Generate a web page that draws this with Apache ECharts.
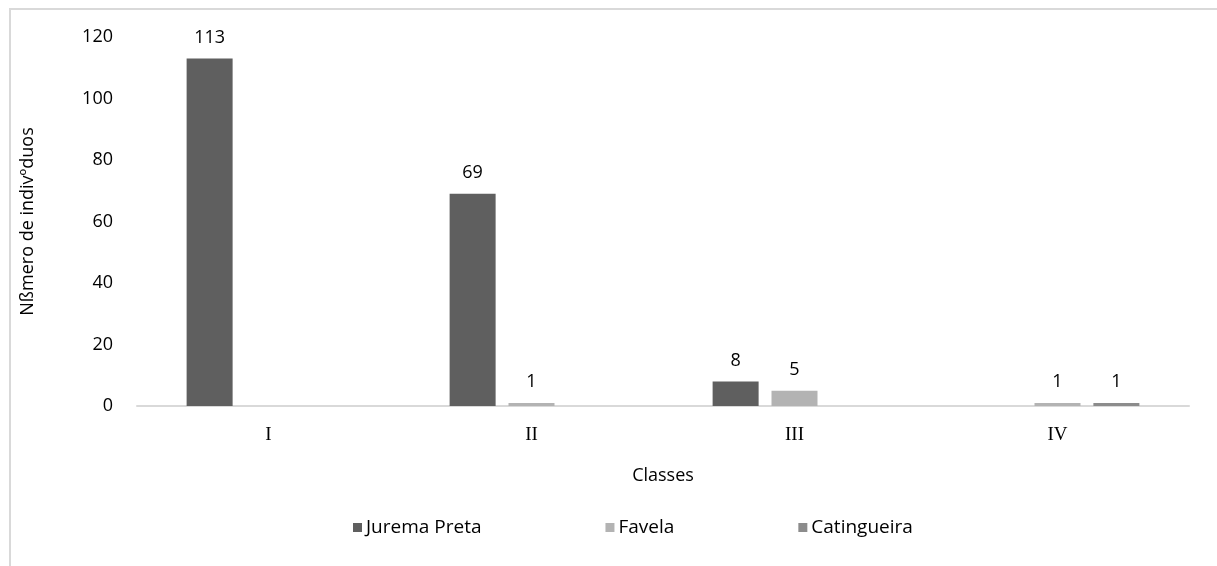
<!DOCTYPE html>
<html>
<head>
<meta charset="utf-8">
<script src="https://cdn.jsdelivr.net/npm/echarts@6/dist/echarts.min.js"></script>
<style>
  html, body { margin: 0; padding: 0; background: #fff; }
  .frame {
    position: absolute; left: 9px; top: 8px; width: 1400px; height: 800px;
    border-left: 2px solid #d9d9d9; border-top: 2px solid #d9d9d9;
  }
  #chart { position: absolute; left: 0; top: 0; width: 1217px; height: 566px; }
</style>
</head>
<body>
<div class="frame"></div>
<div id="chart"></div>
<script>
const categories = ['I', 'II', 'III', 'IV']
const juremaPreta = [113, 69, 8, 0]
const favela = [0, 1, 5, 1]
const catingueira = [0, 0, 0, 1]
const yTicks = { min: 0, max: 120, interval: 20 }

const textFont = '"Open Sans", "Noto Sans", sans-serif'

function barSeries(name, data, color) {
  return {
    name: name,
    type: 'bar',
    data: data,
    barWidth: 46,
    barGap: '28%',
    itemStyle: { color: color },
    label: {
      show: true,
      position: 'top',
      distance: 12,
      color: '#000',
      fontSize: 18,
      fontFamily: textFont,
      formatter: function (p) { return p.value === 0 ? '' : p.value },
    },
  }
}

let mychart = echarts.init(document.getElementById('chart'))
mychart.setOption({
  animation: false,
  backgroundColor: 'transparent',
  grid: { left: 137, right: 28, top: 37, bottom: 160 },
  xAxis: {
    type: 'category',
    data: categories,
    name: 'Classes',
    nameLocation: 'middle',
    nameGap: 61,
    nameTextStyle: { fontSize: 18, fontFamily: textFont, color: '#000' },
    axisLine: { lineStyle: { color: '#d9d9d9', width: 2 } },
    axisTick: { show: false },
    axisLabel: {
      margin: 20,
      fontSize: 19,
      fontFamily: '"Liberation Serif", "DejaVu Serif", serif',
      color: '#000',
    },
  },
  yAxis: {
    type: 'value',
    min: yTicks.min,
    max: yTicks.max,
    interval: yTicks.interval,
    name: 'Nßmero de indivºduos',
    nameLocation: 'middle',
    nameGap: 100,
    nameTextStyle: { fontSize: 18, fontFamily: textFont, color: '#000' },
    axisLine: { show: false },
    axisTick: { show: false },
    splitLine: { show: false },
    axisLabel: { margin: 24, fontSize: 18, fontFamily: textFont, color: '#000' },
  },
  legend: {
    bottom: 24,
    left: 348,
    itemWidth: 9,
    itemHeight: 9,
    itemGap: 124,
    icon: 'rect',
    textStyle: { fontSize: 19, fontFamily: textFont, color: '#000', padding: [0, 0, 0, -1] },
    data: ['Jurema Preta', 'Favela', 'Catingueira'],
  },
  series: [
    barSeries('Jurema Preta', juremaPreta, '#5f5f5f'),
    barSeries('Favela', favela, '#b3b3b3'),
    barSeries('Catingueira', catingueira, '#8c8c8c'),
  ],
})

window.addEventListener('resize', function () {
  mychart.resize()
})
</script>
</body>
</html>
